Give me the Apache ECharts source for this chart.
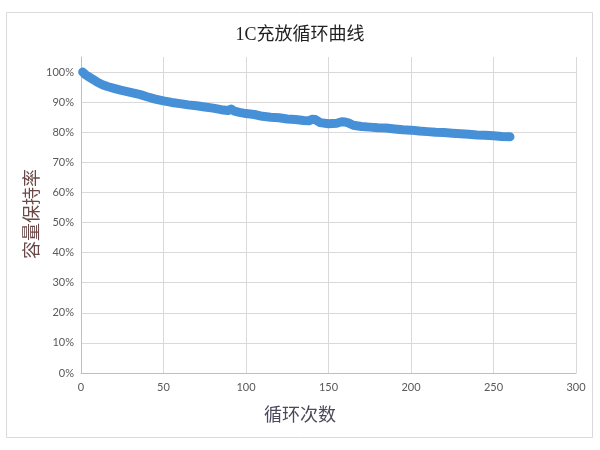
<!DOCTYPE html>
<html><head><meta charset="utf-8">
<script src="https://cdn.jsdelivr.net/npm/echarts@6/dist/echarts.min.js"></script>
<style>html,body{margin:0;padding:0;background:#fff}#c{width:600px;height:450px}</style>
</head><body><div id="c"></div>
<script>
const titleText = '1C充放循环曲线';
const xName = '循环次数';
const yName = '容量保持率';
const xTicks = [0, 50, 100, 150, 200, 250, 300];
const yTicks = [0, 10, 20, 30, 40, 50, 60, 70, 80, 90, 100];
const cycles = [1,3,5,8,10,13,16,20,24,28,32,36,40,45,50,55,60,65,70,75,80,85,89,91,93,96,100,105,110,115,120,125,130,135,138,140,142,145,150,155,158,160,162,165,170,175,180,185,190,195,200,205,210,215,220,225,230,235,240,245,250,255,260];
const retention = [100.0,99.0,98.3,97.3,96.6,95.8,95.2,94.6,94.0,93.5,93.0,92.5,91.8,91.0,90.4,89.9,89.5,89.1,88.8,88.4,88.0,87.5,87.2,87.7,87.0,86.6,86.2,85.9,85.3,85.0,84.8,84.4,84.2,83.9,83.8,84.3,84.2,83.2,82.8,83.0,83.5,83.4,83.1,82.3,81.9,81.7,81.5,81.4,81.1,80.8,80.7,80.4,80.2,80.0,79.9,79.7,79.5,79.3,79.1,79.0,78.8,78.6,78.5];

const data = cycles.map((c, i) => [c, retention[i]]);
const chart = echarts.init(document.getElementById('c'), null, {renderer: 'canvas'});
const labelFont = {color: '#595959', fontSize: 11, fontFamily: 'Lato, "Liberation Sans", sans-serif'};
chart.setOption({
  animation: false,
  backgroundColor: '#fff',
  title: [
    {text: titleText, left: 'center', top: 21,
     textStyle: {fontSize: 18, fontWeight: 'normal', color: '#222', fontFamily: '"Liberation Serif", "Noto Sans CJK SC", serif'}},
    {text: xName, left: 'center', top: 400,
     textStyle: {fontSize: 18, fontWeight: 'normal', color: '#4a4a5a', fontFamily: '"Noto Sans CJK SC", sans-serif'}}
  ],
  graphic: [
    {type: 'rect', shape: {x: 6.5, y: 12.5, width: 586, height: 425}, style: {fill: 'none', stroke: '#d9d9d9', lineWidth: 1}, z: -1},
    {type: 'text', x: 31, y: 214, rotation: Math.PI / 2,
     style: {text: yName, fontSize: 18, fill: '#6a4848', fontFamily: '"Noto Sans CJK SC", sans-serif', align: 'center', verticalAlign: 'middle'}}
  ],
  grid: {left: 81, right: 24, top: 57, bottom: 77},
  xAxis: {
    type: 'value', min: xTicks[0], max: xTicks[xTicks.length - 1], interval: 50,
    axisLine: {show: true, lineStyle: {color: '#bfbfbf'}},
    axisTick: {show: false},
    axisLabel: Object.assign({margin: 9}, labelFont),
    splitLine: {show: true, lineStyle: {color: '#d9d9d9'}}
  },
  yAxis: {
    type: 'value', min: 0, max: 105, interval: 10,
    axisLine: {show: true, lineStyle: {color: '#bfbfbf'}},
    axisTick: {show: false},
    axisLabel: Object.assign({margin: 7, showMaxLabel: false,
      formatter: v => yTicks.includes(v) ? v + '%' : ''}, labelFont),
    splitLine: {show: true, showMaxLine: false, lineStyle: {color: '#d9d9d9'}}
  },
  series: [{
    type: 'line', data: data, showSymbol: false, smooth: false,
    lineStyle: {color: '#4590d6', width: 9, cap: 'round', join: 'round'},
    itemStyle: {color: '#4590d6'}
  }]
});
</script></body></html>
